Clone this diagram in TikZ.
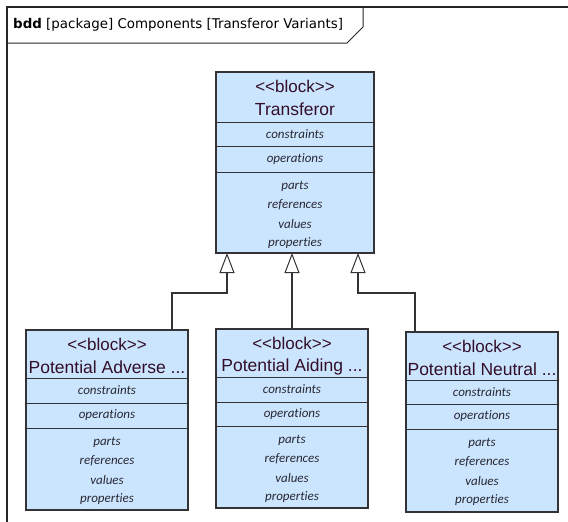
\documentclass[tikz,border=0pt]{standalone}
\usepackage{fontspec}
\usetikzlibrary{arrows.meta}
\setmainfont{Liberation Sans}
\newfontfamily\calib[Ligatures={NoCommon}]{Carlito}
\newfontfamily\tah{DejaVu Sans}
\definecolor{blockfill}{RGB}{204,229,255}
\definecolor{blockline}{RGB}{50,50,55}
\definecolor{nametext}{RGB}{50,14,40}
\definecolor{comptext}{RGB}{40,40,50}
\tikzset{
  blockrect/.style={draw=blockline, fill=blockfill, line width=1.2pt},
  divline/.style={draw=blockline, line width=1pt},
  stereo/.style={font=\fontsize{17}{17}\selectfont, text=nametext, inner sep=0pt},
  bname/.style={font=\fontsize{17.5}{17.5}\selectfont, text=nametext, inner sep=0pt},
  comp/.style={font=\calib\itshape\fontsize{13}{13}\selectfont, text=comptext, inner sep=0pt},
  conn/.style={draw=blockline, line width=1.1pt},
  gen/.style={-{Triangle[open, width=15pt, length=20pt, line width=1pt]}, conn},
  frameline/.style={draw=black!85, line width=1.2pt}
}
\newcommand{\sysblock}[9]{%
  % #1 name, #2 left, #3 right, #4 top, #5 div1, #6 div2, #7 div3, #8 bottom, #9 title
  \path[blockrect] (#2,#4) rectangle (#3,#8);
  \path[divline] (#2,#5) -- (#3,#5);
  \path[divline] (#2,#6) -- (#3,#6);
  \path[divline] (#2,#7) -- (#3,#7);
  \node[inner sep=0pt] (#1) at ({(#2+#3)/2},{(#4+#8)/2}) {};
  \coordinate (#1-top) at ({(#2+#3)/2},#4);
  \coordinate (#1-bot) at ({(#2+#3)/2},#8);
  \node[stereo] (#1-st) at ({(#2+#3)/2},{#4+14}) {{<}{<}block{>}{>}};
  \node[bname] (#1-nm) at ({(#2+#3)/2},{#4+37.5}) {#9};
  \node[comp] (#1-c) at ({(#2+#3)/2},{(#5+#6)/2}) {constraints};
  \node[comp] (#1-o) at ({(#2+#3)/2},{(#6+#7)/2}) {operations};
  \node[comp] (#1-p) at ({(#2+#3)/2},{#7+14}) {parts};
  \node[comp] (#1-r) at ({(#2+#3)/2},{#7+33}) {references};
  \node[comp] (#1-v) at ({(#2+#3)/2},{#7+52}) {values};
  \node[comp] (#1-q) at ({(#2+#3)/2},{#7+71}) {properties};
}
\begin{document}
\begin{tikzpicture}[x=1pt, y=-1pt]
\useasboundingbox (0,0) rectangle (568,522);
% frame
\path[frameline] (7,522) -- (7,7) -- (568,7);
\path[draw=black!85, line width=1pt] (7,43) -- (347,43) -- (363,27) -- (363,7);
\node[anchor=west, inner sep=0pt, font=\tah\fontsize{13.4}{13.4}\selectfont] (hdr) at (13,25)
  {\textbf{bdd}\ [package] Components [Transferor Variants]};
% blocks
\sysblock{tr}{216}{374}{72}{122}{146}{172}{253}{Transferor}
\sysblock{adv}{26}{188}{330}{378}{403}{428}{510}{Potential Adverse ...}
\sysblock{aid}{216}{368}{329}{377}{402}{426}{508}{Potential Aiding ...}
\sysblock{neu}{406}{558}{332}{380}{404}{429}{512}{Potential Neutral ...}
% generalizations
\coordinate (t1) at (227,253);
\coordinate (t2) at (292,253);
\coordinate (t3) at (358,253);
\coordinate (a1) at (172,330);
\coordinate (a3) at (415,332);
\draw[gen] (a1) |- (227,293) -- (t1);
\draw[gen] (aid-top -| t2) -- (t2);
\draw[gen] (a3) |- (358,293) -- (t3);
\end{tikzpicture}
\end{document}
